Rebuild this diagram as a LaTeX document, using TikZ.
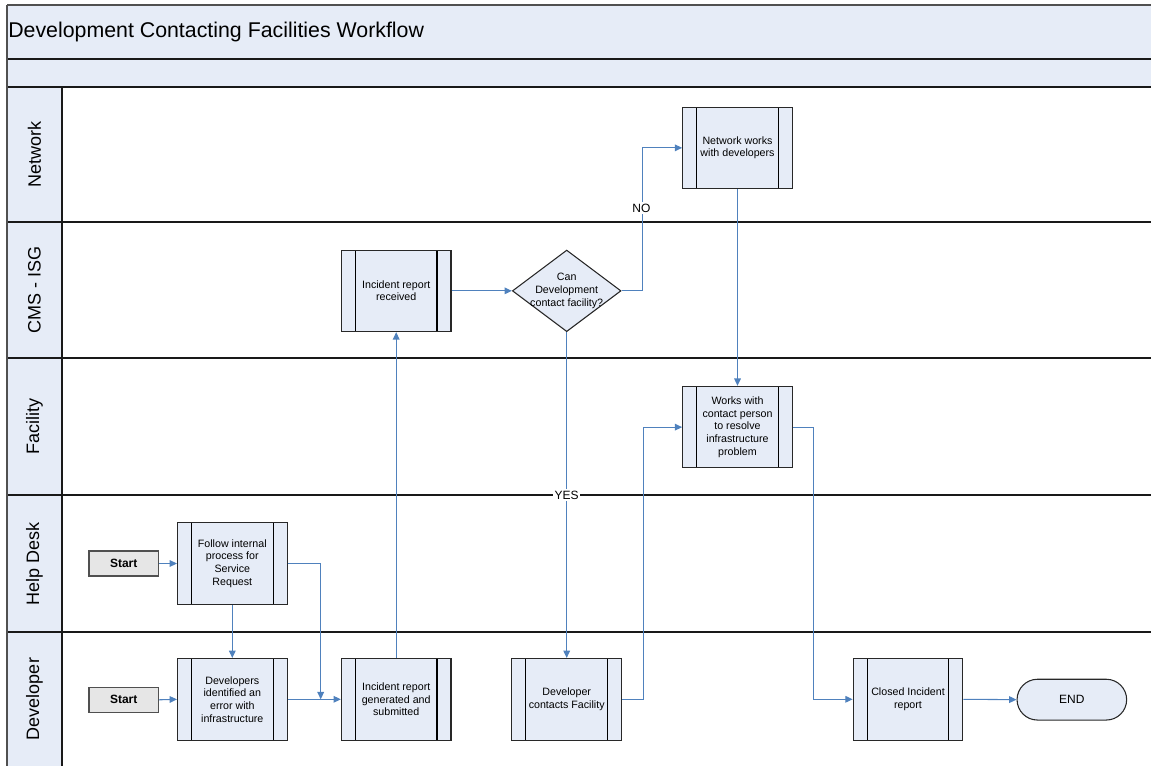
\documentclass[tikz,border=0pt]{standalone}
\usepackage{fontspec}
\setmainfont{Liberation Sans}
\usetikzlibrary{shapes.geometric,arrows.meta}
\definecolor{lb}{RGB}{230,236,247}
\definecolor{sg}{RGB}{230,230,230}
\definecolor{ab}{RGB}{79,129,189}
\definecolor{bd}{RGB}{40,40,40}
\definecolor{sd}{RGB}{80,80,80}
\begin{document}
\begin{tikzpicture}[x=0.75pt,y=-0.75pt,
  lane/.style={draw=black!90,line width=1.1pt},
  lanelabel/.style={rotate=90,font=\fontsize{13.5}{16}\selectfont,inner sep=0pt},
  proc/.style={draw=bd,line width=0.8pt,fill=lb,minimum width=82.2pt,minimum height=61.2pt,
    inner sep=0pt,align=center,font=\fontsize{8}{9.5}\selectfont,
    path picture={
      \draw[black,line width=0.8pt] ([xshift=10.5pt]path picture bounding box.north west) -- ([xshift=10.5pt]path picture bounding box.south west);
      \draw[black,line width=0.8pt] ([xshift=-10.5pt]path picture bounding box.north east) -- ([xshift=-10.5pt]path picture bounding box.south east);
    }},
  startbox/.style={draw=sd,line width=1pt,fill=sg,minimum width=52pt,minimum height=18.75pt,inner sep=0pt,font=\bfseries\fontsize{9}{11}\selectfont},
  endbox/.style={draw=bd,line width=0.8pt,fill=lb,rounded corners=15.3pt,minimum width=82.2pt,minimum height=30.6pt,inner sep=0pt,font=\fontsize{9}{11}\selectfont},
  decision/.style={diamond,draw=bd,line width=0.8pt,fill=lb,minimum width=81.5pt,minimum height=61.2pt,inner sep=0pt},
  plain/.style={align=center,font=\fontsize{8}{9.5}\selectfont,inner sep=0pt},
  conn/.style={draw=ab,line width=0.8pt,-{Triangle[length=5.5pt,width=5pt]}},
  lbl/.style={fill=white,inner sep=1pt,font=\fontsize{9}{11}\selectfont}
]
\useasboundingbox (0,0) rectangle (1151,766);
% bands
\fill[lb] (7,5) rectangle (1151,87);
\fill[lb] (7,87) rectangle (62,766);
\draw[sd,line width=1.5pt] (7,5) -- (1151,5);
\draw[lane] (7,59) -- (1151,59);
\draw[lane] (7,87) -- (1151,87);
\foreach \yy in {222,358,495,632} {\draw[lane] (7,\yy) -- (1151,\yy);}
\draw[sd,line width=1.2pt] (7,5) -- (7,766);
\draw[lane] (62,87) -- (62,766);
% title and lane labels
\node[anchor=west,inner sep=0pt,font=\fontsize{16}{19}\selectfont] (title) at (8,32) {Development Contacting Facilities Workflow};
\node[lanelabel] (lnet) at (34.5,154.5) {Network};
\node[lanelabel] (lcms) at (34.5,290) {CMS - ISG};
\node[lanelabel] (lfac) at (34.5,426.5) {Facility};
\node[lanelabel] (lhd) at (34.5,563.5) {Help Desk};
\node[lanelabel] (ldev) at (34.5,699) {Developer};
% nodes
\node[startbox] (shd) at (123.7,563.5) {Start};
\node[startbox] (sdev) at (123.7,699.8) {Start};
\node[proc] (follow) at (232.3,563.5) {Follow internal\\process for\\Service\\Request};
\node[proc] (devid) at (232.3,699.3) {Developers\\identified an\\error with\\infrastructure};
\node[proc] (irg) at (396.2,699.3) {Incident report\\generated and\\submitted};
\node[proc] (irr) at (396.2,290.85) {Incident report\\received};
\node[decision] (dia) at (566.7,290.85) {};
\node[plain] (dtext) at (566.7,291) {Can\\Development\\contact facility?};
\node[proc] (nw) at (737.5,147.85) {Network works\\with developers};
\node[proc] (wwc) at (737.5,427.15) {Works with\\contact person\\to resolve\\infrastructure\\problem};
\node[proc] (dcf) at (566.7,699.3) {Developer\\contacts Facility};
\node[proc] (cir) at (908,699.3) {Closed Incident\\report};
\node[endbox] (end) at (1071.85,699.65) {END};
\coordinate (j1) at (320.7,699.3);
% connectors
\draw[conn] (shd.east) -- (follow.west);
\draw[conn] (sdev.east) -- (devid.west);
\draw[conn] (follow.south) -- (devid.north);
\draw[conn] (follow.east) -| (j1);
\draw[conn] (devid.east) -- (irg.west);
\draw[conn] (irg.north) -- (irr.south);
\draw[conn] (irr.east) -- (dia.west);
\draw[conn] (dia.east) -- ++(20.7,0) |- (nw.west);
\draw[conn] (dia.south) -- (dcf.north);
\draw[conn] (nw.south) -- (wwc.north);
\draw[conn] (dcf.east) -- ++(21.3,0) |- (wwc.west);
\draw[conn] (wwc.east) -- ++(20.4,0) |- (cir.west);
\draw[conn] (cir.east) -- (end.west);
% labels
\node[lbl] (no) at (641.4,208) {NO};
\node[lbl] (yes) at (566.7,495) {YES};
\end{tikzpicture}
\end{document}
